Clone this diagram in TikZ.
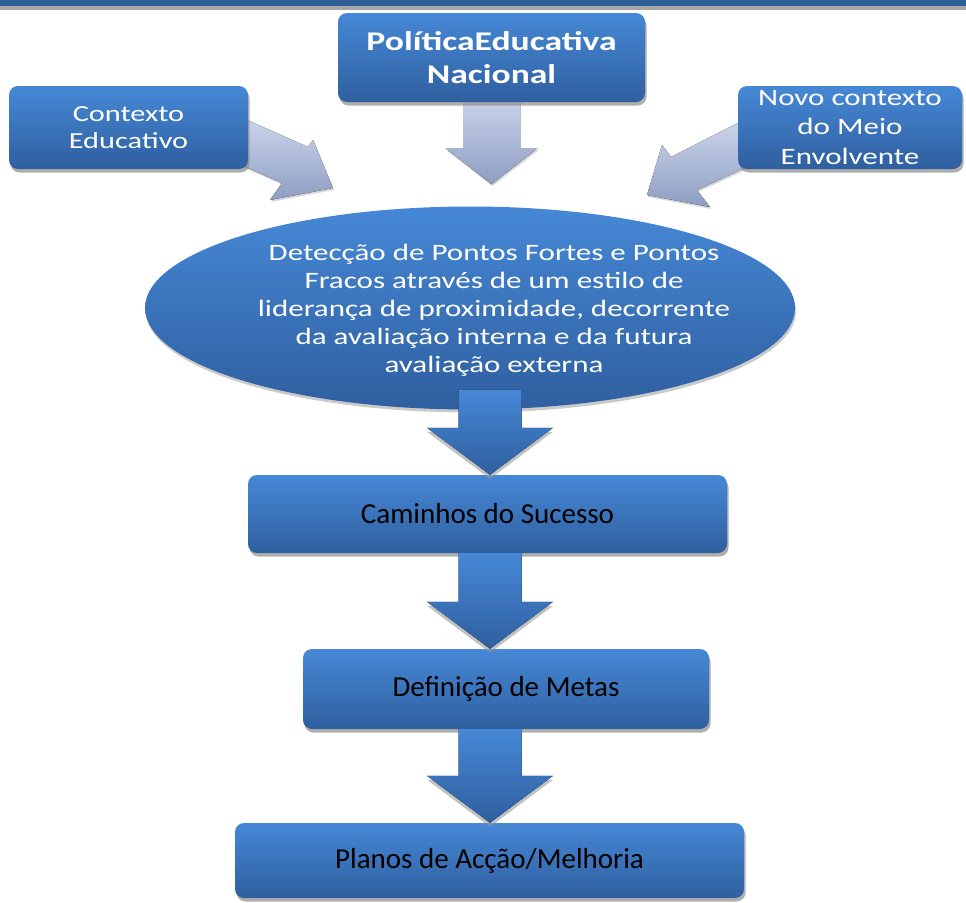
\documentclass[tikz,border=0pt]{standalone}
\usepackage{fontspec}
\setmainfont{Carlito}
\newfontfamily\widefont[FakeStretch=1.32]{Carlito}
\usetikzlibrary{shapes.geometric,shadows,calc,backgrounds}

\definecolor{boxtop}{HTML}{4688D6}
\definecolor{boxbot}{HTML}{2F5F9F}
\definecolor{greytop}{HTML}{CAD4EA}
\definecolor{greybot}{HTML}{8E9DC2}
\definecolor{barblue}{HTML}{2E5D95}
\definecolor{bargrey}{HTML}{A6A6A6}

% block arrow pointing down: shaft from #1, tip at #2
\newcommand{\flowdown}[2]{%
  \fill[bluearrow] ($(#1)+(-31.5,0)$) -- ($(#2)+(-31.5,-47)$) -- ($(#2)+(-63,-47)$)
    -- (#2) -- ($(#2)+(63,-47)$) -- ($(#2)+(31.5,-47)$) -- ($(#1)+(31.5,0)$) -- cycle;}

\begin{document}
\begin{tikzpicture}[x=1pt,y=-1pt,
    flowbox/.style={rectangle, rounded corners=9pt, top color=boxtop, bottom color=boxbot,
      align=center, inner sep=0pt,
      drop shadow={shadow xshift=1.5pt, shadow yshift=-3.5pt, fill=black!45, opacity=.7}},
    srcbox/.style={flowbox, text=white, font=\widefont\fontsize{23}{27}\selectfont},
    stepbox/.style={flowbox, text=black, font=\fontsize{29}{34}\selectfont},
    greyarrow/.style={top color=greytop, bottom color=greybot,
      drop shadow={shadow xshift=1pt, shadow yshift=-2pt, fill=black!30, opacity=.5}},
    bluearrow/.style={top color=boxtop, bottom color=boxbot,
      drop shadow={shadow xshift=0pt, shadow yshift=-4pt, fill=black!40, opacity=.6}}]
  \useasboundingbox (0,0) rectangle (966,902);

  % Top bar
  \fill[barblue] (0,0) rectangle (966,6);
  \fill[bargrey] (0,6) rectangle (966,10);

  % Sources
  \node[srcbox, font=\widefont\bfseries\fontsize{27}{33}\selectfont, minimum width=307pt, minimum height=89pt]
    (pol) at (491.5,57.5) {PolíticaEducativa\\Nacional};
  \node[srcbox, minimum width=239pt, minimum height=83pt]
    (ctx) at (128.5,127.5) {Contexto\\Educativo};
  \node[srcbox, font=\widefont\fontsize{23.5}{29.5}\selectfont, minimum width=224pt, minimum height=83pt]
    (nvc) at (850,127.5) {Novo contexto\\do Meio\\Envolvente};

  % Ellipse
  \node[ellipse, top color=boxtop, bottom color=boxbot, minimum width=650pt, minimum height=203pt,
    inner sep=0pt, drop shadow={shadow xshift=1pt, shadow yshift=-3pt, fill=black!35, opacity=.6}]
    (det) at (470,308) {};
  \node[text=white, align=center, font=\widefont\fontsize{23.5}{28}\selectfont] (dettxt) at (494,310)
    {Detecção de Pontos Fortes e Pontos\\Fracos através de um estilo de\\liderança de proximidade, decorrente\\da avaliação interna e da futura\\avaliação externa};

  % Steps
  \node[stepbox, minimum width=479pt, minimum height=78pt] (cam) at (487.5,514) {Caminhos do Sucesso};
  \node[stepbox, minimum width=406pt, minimum height=80pt] (def) at (506,689) {Definição de Metas};
  \node[stepbox, minimum width=509pt, minimum height=75pt] (pla) at (489.5,860.5) {Planos de Acção/Melhoria};

  % Light arrows into the ellipse
  \coordinate (lt) at (333,188);
  \coordinate (ct) at ($(pol.south)+(0,82)$);
  \coordinate (rt) at (647,195);
  \begin{pgfonlayer}{background}
    \fill[greyarrow] ($(ctx.east)+(0,-7)$) -- ($(lt)+(-25,-41)$) -- ($(lt)+(-20,-48)$) -- (lt)
      -- ($(lt)+(-63,12)$) -- ($(lt)+(-51,-5)$) -- ($(ctx.east)+(-8,37)$) -- cycle;
    \fill[greyarrow] ($(pol.south)+(-28.5,-5)$) -- ($(ct)+(-28.5,-36)$) -- ($(ct)+(-46,-36)$) -- (ct)
      -- ($(ct)+(46,-36)$) -- ($(ct)+(28.5,-36)$) -- ($(pol.south)+(28.5,-5)$) -- cycle;
    \fill[greyarrow] ($(nvc.west)+(0,-4.5)$) -- ($(rt)+(24,-38)$) -- ($(rt)+(15,-50)$) -- (rt)
      -- ($(rt)+(63,12)$) -- ($(rt)+(50,-5)$) -- ($(nvc.west)+(8,40)$) -- cycle;
  \end{pgfonlayer}

  % Down arrows
  \coordinate (axis) at (490,0);
  \coordinate (s1) at ($(axis |- det.south)+(0,-20)$);
  \coordinate (t1) at (axis |- cam.north);
  \coordinate (s2) at (axis |- cam.south);
  \coordinate (t2) at (axis |- def.north);
  \coordinate (s3) at (axis |- def.south);
  \coordinate (t3) at (axis |- pla.north);
  \flowdown{s1}{t1}
  \flowdown{s2}{t2}
  \flowdown{s3}{t3}

\end{tikzpicture}
\end{document}
